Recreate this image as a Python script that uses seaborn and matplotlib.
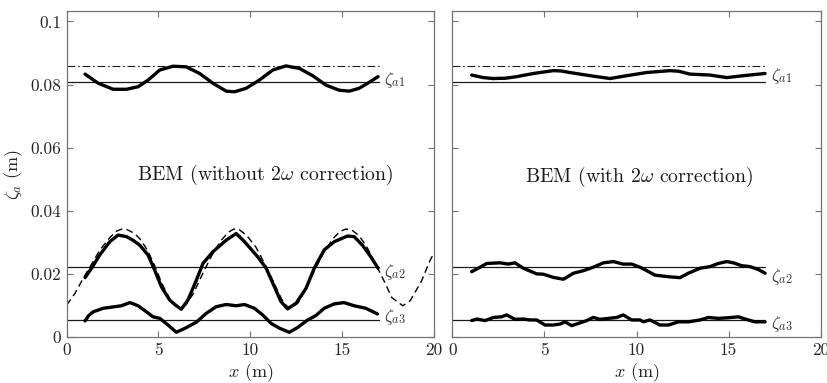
import numpy as np
import pandas as pd
import matplotlib
matplotlib.use("Agg")
import matplotlib.pyplot as plt
import seaborn as sns

# ---------------- data ----------------
# left panel: BEM without 2w correction
l_a1_x = [1.0, 1.72, 2.53, 3.26, 3.89, 4.43, 5.07, 5.79, 6.51, 7.24, 7.96, 8.69, 9.14, 9.77, 10.49,
          11.22, 11.94, 12.67, 13.39, 14.12, 14.84, 15.38, 15.92, 16.47, 16.95]
l_a1_y = [0.0833, 0.0804, 0.0785, 0.0785, 0.0793, 0.0814, 0.0846, 0.0858, 0.0856, 0.0835, 0.0804,
          0.0779, 0.0777, 0.0788, 0.0814, 0.0846, 0.0859, 0.0851, 0.0828, 0.0798, 0.0782, 0.0779,
          0.0788, 0.0807, 0.0825]
l_a2_x = [1.0, 1.4, 1.8, 2.35, 2.8, 3.26, 3.6, 3.98, 4.43, 4.79, 5.16, 5.61, 5.95, 6.24, 6.6, 7.06,
          7.42, 7.96, 8.69, 9.23, 9.68, 10.4, 10.86, 11.31, 11.67, 12.03, 12.49, 13.03, 13.48, 14.02,
          14.57, 15.29, 15.65, 16.1, 16.56, 16.95]
l_a2_y = [0.0188, 0.0222, 0.026, 0.0302, 0.0323, 0.0318, 0.0307, 0.0291, 0.026, 0.0212, 0.0159,
          0.0117, 0.0100, 0.0088, 0.0117, 0.018, 0.0233, 0.027, 0.0307, 0.0328, 0.0302, 0.0254,
          0.0218, 0.0159, 0.0112, 0.0089, 0.0107, 0.0154, 0.0218, 0.0276, 0.0302, 0.032, 0.0318,
          0.0291, 0.0254, 0.0218]
l_a3_x = [1.0, 1.2, 1.45, 1.99, 2.62, 2.98, 3.44, 3.89, 4.34, 4.7, 5.07, 5.52, 5.97, 6.42, 7.06, 7.6,
          8.14, 8.69, 9.23, 9.68, 10.22, 10.67, 11.13, 11.58, 12.12, 12.57, 13.12, 13.57, 14.02,
          14.57, 15.1, 15.65, 16.29, 16.92]
l_a3_y = [0.0051, 0.0068, 0.008, 0.0091, 0.0096, 0.0099, 0.0109, 0.0099, 0.008, 0.0064, 0.0059,
          0.0038, 0.0015, 0.0027, 0.0047, 0.0075, 0.0096, 0.0103, 0.0099, 0.0103, 0.0091, 0.007,
          0.0043, 0.0028, 0.0015, 0.003, 0.0054, 0.0068, 0.0091, 0.0105, 0.0109, 0.0099, 0.0091,
          0.0073]
theory_x = [0, 0.45, 0.9, 1.4, 1.8, 2.35, 2.7, 3.0, 3.3, 3.7, 4.0, 4.4, 4.8, 5.2, 5.6, 6.0, 6.25,
            6.5, 6.9, 7.4, 7.9, 8.4, 8.8, 9.1, 9.4, 9.8, 10.3, 10.8, 11.3, 11.7, 12.0, 12.3, 12.6,
            13.0, 13.5, 14.0, 14.5, 14.9, 15.2, 15.5, 15.9, 16.3, 16.9, 17.3, 17.7, 18.3, 18.7,
            19.3, 19.8, 20.0]
theory_y = [0.0101, 0.0138, 0.0186, 0.0235, 0.0275, 0.0315, 0.0335, 0.0342, 0.0340, 0.0328,
            0.0310, 0.0275, 0.0225, 0.0168, 0.0122, 0.0098, 0.0094, 0.0102, 0.0138, 0.0200,
            0.0258, 0.0305, 0.0332, 0.0342, 0.0340, 0.0322, 0.0285, 0.0230, 0.0170, 0.0120,
            0.0097, 0.0095, 0.0108, 0.0150, 0.0212, 0.0268, 0.0312, 0.0335, 0.0342, 0.0340,
            0.0322, 0.0290, 0.0222, 0.0175, 0.0125, 0.0099, 0.0115, 0.0175, 0.0245, 0.0265]

# right panel: BEM with 2w correction
r_a1_x = [1.05, 1.68, 2.2, 2.9, 3.5, 4.4, 5.48, 5.9, 6.39, 7.48, 8.56, 9.47, 10.55, 11.82, 12.3,
          12.9, 13.99, 14.9, 15.8, 16.98]
r_a1_y = [0.083, 0.0822, 0.0819, 0.082, 0.0825, 0.0835, 0.0844, 0.0843, 0.0838, 0.0828, 0.0819,
          0.0828, 0.0838, 0.0844, 0.0842, 0.0833, 0.083, 0.0822, 0.0828, 0.0835]
r_a2_x = [1.05, 1.41, 1.87, 2.59, 3.04, 3.4, 3.85, 4.58, 4.94, 5.48, 6.03, 6.57, 7.11, 7.65, 8.2,
          8.74, 9.28, 9.74, 10.19, 10.5, 11.0, 11.73, 12.36, 12.81, 13.45, 13.99, 14.44, 14.9,
          15.26, 15.71, 16.16, 16.61, 16.98]
r_a2_y = [0.0207, 0.0218, 0.0233, 0.0235, 0.0231, 0.0235, 0.0218, 0.02, 0.0199, 0.0189, 0.0183,
          0.0202, 0.021, 0.0221, 0.0235, 0.0239, 0.0231, 0.0231, 0.0221, 0.0212, 0.0196, 0.0191,
          0.0188, 0.0202, 0.0218, 0.0223, 0.0233, 0.0239, 0.0235, 0.0226, 0.0223, 0.0214, 0.0202]
r_a3_x = [1.05, 1.32, 1.78, 2.23, 2.68, 2.95, 3.4, 3.85, 4.22, 4.58, 5.03, 5.48, 5.85, 6.12, 6.48,
          6.84, 7.3, 7.65, 8.02, 8.47, 8.93, 9.28, 9.74, 10.19, 10.37, 10.73, 11.27, 11.73, 12.27,
          12.81, 13.45, 13.9, 14.44, 14.98, 15.53, 15.89, 16.43, 16.98]
r_a3_y = [0.0052, 0.0057, 0.0052, 0.0062, 0.0064, 0.007, 0.0056, 0.0057, 0.0054, 0.0054, 0.0038,
          0.0038, 0.0041, 0.0048, 0.0036, 0.0043, 0.0052, 0.0062, 0.0056, 0.0059, 0.0062, 0.007,
          0.0054, 0.0054, 0.0048, 0.0054, 0.0038, 0.0038, 0.0048, 0.0048, 0.0054, 0.0062, 0.0059,
          0.0061, 0.0064, 0.0057, 0.0048, 0.0048]

# reference levels (same in both panels)
ref_levels = [0.0807, 0.0221, 0.0053]
peak_level = 0.086
ref_x = [0, 17]
level_names = [r"$\zeta_{a1}$", r"$\zeta_{a2}$", r"$\zeta_{a3}$"]

x_ticks = [0, 5, 10, 15, 20]
y_ticks = [0, 0.02, 0.04, 0.06, 0.08, 0.1]
y_ticklabels = ["0", "0.02", "0.04", "0.06", "0.08", "0.1"]
panel_titles = [r"BEM (without $2\omega$ correction)", r"BEM (with $2\omega$ correction)"]

# ---------------- style ----------------
sns.set_theme(style="white")
plt.rcParams.update({
    "font.family": "serif",
    "font.serif": ["cmr10"],
    "mathtext.fontset": "cm",
    "axes.formatter.use_mathtext": True,
    "axes.unicode_minus": False,
})

fig = plt.figure(figsize=(8.28, 3.83), dpi=100)
axL = fig.add_axes([0.0805, 0.1201, 0.4437, 0.8512])
axR = fig.add_axes([0.5463, 0.1201, 0.4449, 0.8512])

THICK = 2.4
GREY = "0.45"


def draw_panel(ax, curves, label_y, title, title_xy, show_ylabels):
    # reference levels
    for lv in ref_levels:
        sns.lineplot(x=ref_x, y=[lv, lv], ax=ax, color="0.1", linewidth=0.9)
    sns.lineplot(x=ref_x, y=[peak_level, peak_level], ax=ax, color="0.1", linewidth=0.8,
                 linestyle=(0, (7, 2.5, 1.5, 2.5)))
    for cx, cy in curves:
        df = pd.DataFrame({"x": cx, "y": cy})
        sns.lineplot(data=df, x="x", y="y", ax=ax, color="black", linewidth=THICK,
                     estimator=None, sort=False)
    for name, ly in zip(level_names, label_y):
        ax.text(17.3, ly, name, fontsize=12.5, va="center", ha="left", color="0.2")
    ax.text(title_xy[0], title_xy[1], title, fontsize=14.3, ha="center", va="center",
            color="0.1")
    ax.set_xlim(0, 20)
    ax.set_ylim(0, 0.1033)
    ax.set_xticks(x_ticks)
    ax.set_xticklabels([str(t) for t in x_ticks])
    ax.set_yticks(y_ticks)
    if show_ylabels:
        ax.set_yticklabels(y_ticklabels)
        ax.set_ylabel(r"$\zeta_a$ (m)", fontsize=13, color="0.15", labelpad=4)
    else:
        ax.set_yticklabels([])
        ax.set_ylabel("")
    ax.set_xlabel(r"$x$ (m)", fontsize=13, color="0.15", labelpad=2.5)
    ax.tick_params(direction="in", length=4, width=0.8, color=GREY, labelcolor="0.15",
                   labelsize=12.5, top=True, right=True, bottom=True, left=True, pad=4)
    for sp in ax.spines.values():
        sp.set_visible(True)
        sp.set_color(GREY)
        sp.set_linewidth(0.9)


draw_panel(axL, [(theory_x, theory_y), (l_a1_x, l_a1_y), (l_a2_x, l_a2_y), (l_a3_x, l_a3_y)],
           [0.0815, 0.0205, 0.0062], panel_titles[0], (10.8, 0.0513), True)
# dashed theory on left panel
axL.lines[4].set_linestyle((0, (5, 3)))
axL.lines[4].set_linewidth(1.0)

draw_panel(axR, [(r_a1_x, r_a1_y), (r_a2_x, r_a2_y), (r_a3_x, r_a3_y)],
           [0.0827, 0.019, 0.0041], panel_titles[1], (10.14, 0.0508), False)

fig.savefig("out.png", dpi=100)
